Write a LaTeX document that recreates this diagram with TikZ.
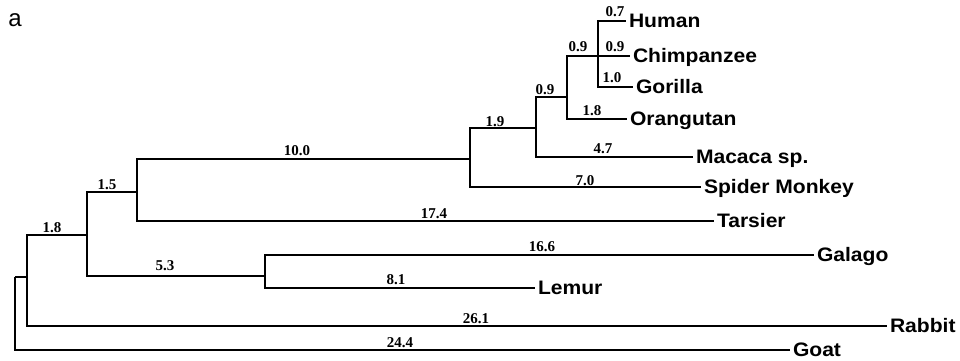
\documentclass[tikz,border=0pt]{standalone}
\usepackage{fontspec}
\setmainfont{Liberation Serif}
\newfontfamily\leaffont[FakeStretch=1.08]{Liberation Sans}
\newfontfamily\panelfont{Liberation Sans}
\begin{document}
\begin{tikzpicture}[x=1pt,y=-1pt,
  branch/.style={line width=1.5pt},
  leaf/.style={anchor=west, inner xsep=3pt, inner ysep=0pt, outer sep=0pt,
    text height=12.5pt, text depth=0pt, font=\leaffont\bfseries\fontsize{19.5}{20}\selectfont},
  blen/.style={anchor=base, inner sep=0pt, font=\bfseries\fontsize{15}{16}\selectfont}]
\useasboundingbox (0,0) rectangle (960,360);
\node[anchor=base, inner sep=0pt, font=\panelfont\fontsize{24}{26}\selectfont] (panel) at (15,26) {a};
% internal nodes
\coordinate (R) at (15,277);
\coordinate (A) at (27,277);
\coordinate (B) at (87,235);
\coordinate (C) at (137,192);
\coordinate (D) at (265,276);
\coordinate (E) at (470,159);
\coordinate (F) at (536,128);
\coordinate (G) at (567,97);
\coordinate (H) at (598,56);
% leaves
\node[leaf] (human) at (626,21) {Human};
\node[leaf] (chimp) at (630,56) {Chimpanzee};
\node[leaf] (gorilla) at (633,87) {Gorilla};
\node[leaf] (orang) at (627,119) {Orangutan};
\node[leaf] (macaca) at (693,157) {Macaca sp.};
\node[leaf] (spider) at (701,187) {Spider Monkey};
\node[leaf] (tarsier) at (714,221) {Tarsier};
\node[leaf] (galago) at (814,255) {Galago};
\node[leaf] (lemur) at (535,288) {Lemur};
\node[leaf] (rabbit) at (887,326) {Rabbit};
\node[leaf] (goat) at (790,350) {Goat};
% edges
\draw[branch] (R) |- (A);
\draw[branch] (R) |- (goat);
\draw[branch] (A) |- (B);
\draw[branch] (A) |- (rabbit);
\draw[branch] (B) |- (C);
\draw[branch] (B) |- (D);
\draw[branch] (C) |- (E);
\draw[branch] (C) |- (tarsier);
\draw[branch] (D) |- (galago);
\draw[branch] (D) |- (lemur);
\draw[branch] (E) |- (F);
\draw[branch] (E) |- (spider);
\draw[branch] (F) |- (G);
\draw[branch] (F) |- (macaca);
\draw[branch] (G) |- (H);
\draw[branch] (G) |- (orang);
\draw[branch] (H) |- (human);
\draw[branch] (H) |- (chimp);
\draw[branch] (H) |- (gorilla);
% branch lengths
\node[blen] (l1) at (615,16) {0.7};
\node[blen] (l2) at (615,51) {0.9};
\node[blen] (l3) at (612,82) {1.0};
\node[blen] (l4) at (578,51) {0.9};
\node[blen] (l5) at (545,94) {0.9};
\node[blen] (l6) at (592,115) {1.8};
\node[blen] (l7) at (495,126) {1.9};
\node[blen] (l8) at (603,153) {4.7};
\node[blen] (l9) at (585,185) {7.0};
\node[blen] (l10) at (434,218) {17.4};
\node[blen] (l11) at (297,155) {10.0};
\node[blen] (l12) at (107,189) {1.5};
\node[blen] (l13) at (52,232) {1.8};
\node[blen] (l14) at (165,270) {5.3};
\node[blen] (l15) at (542,251) {16.6};
\node[blen] (l16) at (396,284) {8.1};
\node[blen] (l17) at (476,323) {26.1};
\node[blen] (l18) at (400,347) {24.4};
\end{tikzpicture}
\end{document}
